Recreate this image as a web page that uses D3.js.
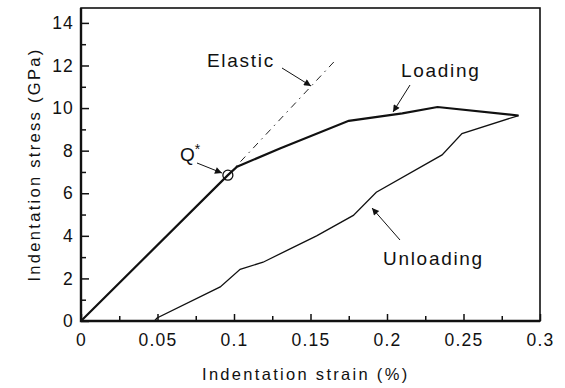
<!DOCTYPE html>
<html>
<head>
<meta charset="utf-8">
<script src="https://cdn.jsdelivr.net/npm/d3@7"></script>
<style>
  body { margin: 0; background: #fff; }
  text { font-family: "Liberation Sans", Arial, sans-serif; fill: #111; }
  .tick text { font-size: 17.5px; letter-spacing: 1.2px; }
  .axlbl { font-size: 16.5px; letter-spacing: 2.3px; }
  .lbl { font-size: 19px; letter-spacing: 1.7px; }
</style>
</head>
<body>
<svg id="chart" width="565" height="388"></svg>
<script>
// data
const loadingStrain = [0, 0.096, 0.102, 0.13, 0.175, 0.21, 0.233, 0.286]
const loadingStress = [0, 6.85, 7.25, 8.1, 9.4, 9.75, 10.05, 9.65]
const unloadingStrain = [0.286, 0.249, 0.236, 0.193, 0.178, 0.154, 0.137, 0.119, 0.104, 0.091, 0.0497, 0.048]
const unloadingStress = [9.65, 8.8, 7.8, 6.05, 4.96, 4.0, 3.4, 2.76, 2.43, 1.6, 0.14, 0]
const elasticStrain = [0.096, 0.167]
const elasticStress = [6.85, 12.3]
const qPoint = { strain: 0.096, stress: 6.85 }
const xTicks = [0, 0.05, 0.1, 0.15, 0.2, 0.25, 0.3]
const yTicks = [0, 2, 4, 6, 8, 10, 12, 14]

const svg = d3.select('#chart')
const margin = { top: 8, right: 25, bottom: 67, left: 81 }
const width = 565 - margin.left - margin.right
const height = 388 - margin.top - margin.bottom

const x = d3.scaleLinear().domain([0, 0.3]).range([0, width])
const y = d3.scaleLinear().domain([0, 14.7]).range([height, 0])

const g = svg.append('g').attr('transform', `translate(${margin.left},${margin.top})`)

// frame
g.append('rect')
  .attr('width', width).attr('height', height)
  .attr('fill', 'none').attr('stroke', '#111').attr('stroke-width', 1.6)
g.append('path')
  .attr('d', `M0,0V${height}H${width}`)
  .attr('fill', 'none').attr('stroke', '#111').attr('stroke-width', 2.4)

// axes, ticks inside
const xAxis = g.append('g').attr('transform', `translate(0,${height})`)
  .call(d3.axisBottom(x).tickValues(xTicks).tickSize(-7).tickPadding(13)
    .tickFormat(d => d === 0 ? '0' : String(+d.toFixed(2))))
xAxis.append('g').call(d3.axisBottom(x).tickValues(d3.range(0.025, 0.3, 0.05)).tickSize(-5).tickFormat(''))
const yAxis = g.append('g')
  .call(d3.axisLeft(y).tickValues(yTicks).tickSize(-8).tickPadding(7))
yAxis.append('g').call(d3.axisLeft(y).tickValues(d3.range(1, 15, 2)).tickSize(-5).tickFormat(''))
g.selectAll('.domain').remove()
g.selectAll('.tick line').attr('stroke', '#111').attr('stroke-width', 1.5)
g.selectAll('.tick text').attr('fill', '#111')

const line = d3.line().x(d => x(d[0])).y(d => y(d[1]))

// elastic dash-dot
g.append('path')
  .attr('d', line(d3.zip(elasticStrain, elasticStress)))
  .attr('fill', 'none').attr('stroke', '#222').attr('stroke-width', 1)
  .attr('stroke-dasharray', '7,5,1.5,5')

g.append('path')
  .attr('d', line(d3.zip(loadingStrain, loadingStress)))
  .attr('fill', 'none').attr('stroke', '#111').attr('stroke-width', 2.2)

g.append('path')
  .attr('d', line(d3.zip(unloadingStrain, unloadingStress)))
  .attr('fill', 'none').attr('stroke', '#111').attr('stroke-width', 1.3)

g.append('circle')
  .attr('cx', x(qPoint.strain)).attr('cy', y(qPoint.stress)).attr('r', 5)
  .attr('fill', 'none').attr('stroke', '#111').attr('stroke-width', 1.3)

// arrowhead
svg.append('defs').append('marker')
  .attr('id', 'arrow').attr('viewBox', '0 0 10 10').attr('refX', 10).attr('refY', 5)
  .attr('markerWidth', 11).attr('markerHeight', 7).attr('markerUnits', 'userSpaceOnUse')
  .attr('orient', 'auto')
  .append('path').attr('d', 'M0,0L10,5L0,10z').attr('fill', '#111')

const notes = [
  { text: 'Elastic', tx: 207, ty: 67, from: [282, 68], to: [311, 86] },
  { text: 'Loading', tx: 401, ty: 77, from: [410, 85], to: [393, 112] },
  { text: 'Unloading', tx: 383, ty: 265, from: [400, 240], to: [372, 208] },
  { text: 'Q*', tx: 180, ty: 161, from: [197, 163], to: [222, 173] }
]
notes.forEach(n => {
  svg.append('line')
    .attr('x1', n.from[0]).attr('y1', n.from[1]).attr('x2', n.to[0]).attr('y2', n.to[1])
    .attr('stroke', '#111').attr('stroke-width', 1).attr('marker-end', 'url(#arrow)')
  if (n.text === 'Q*') {
    const t = svg.append('text').attr('class', 'lbl').attr('x', n.tx).attr('y', n.ty)
      .style('letter-spacing', '0px')
    t.append('tspan').text('Q')
    t.append('tspan').text('*').attr('dy', -7).attr('font-size', 14)
  } else {
    svg.append('text').attr('class', 'lbl').attr('x', n.tx).attr('y', n.ty).text(n.text)
  }
})

svg.append('text').attr('class', 'axlbl')
  .attr('x', 202).attr('y', 380)
  .text('Indentation strain (%)')
svg.append('text').attr('class', 'axlbl')
  .attr('transform', `translate(40,${margin.top + height / 2}) rotate(-90)`)
  .attr('text-anchor', 'middle')
  .text('Indentation stress (GPa)')
</script>
</body>
</html>
